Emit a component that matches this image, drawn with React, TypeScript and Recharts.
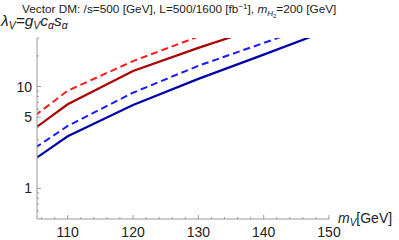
import React from 'react';
import { LineChart, Line, XAxis, YAxis, Customized } from 'recharts';

const masses = [105, 110, 120, 130, 140, 150];
const redDashed = [5.2, 9.1, 17.8, 31, 50, 75];
const darkRed = [3.9, 6.7, 14.2, 24.0, 39, 60];
const blueDashed = [2.5, 4.1, 8.7, 16.0, 26.8, 45];
const darkBlue = [1.95, 3.25, 6.6, 11.9, 20.6, 36];

const xTicks = [106, 108, 110, 112, 114, 116, 118, 120, 122, 124, 126, 128, 130, 132, 134, 136, 138, 140, 142, 144, 146, 148, 150];
const xMajor = [110, 120, 130, 140, 150];
const yTicks = [0.6, 0.7, 0.8, 0.9, 1, 2, 3, 4, 5, 6, 7, 8, 9, 10, 20, 30];
const yMajor = [1, 5, 10];

const data = masses.map((m, i) => ({
  m,
  rd: redDashed[i],
  dr: darkRed[i],
  bd: blueDashed[i],
  db: darkBlue[i],
}));

const FONT = '"Liberation Sans", Arial, sans-serif';

const XTick = (props: any) => {
  const { x, y, payload } = props;
  const major = xMajor.includes(payload.value);
  return (
    <g>
      <line x1={x} y1={y} x2={x} y2={y - (major ? 4 : 2)} stroke="#999" strokeWidth={1} />
      {major && (
        <text x={x} y={y + 17.5} textAnchor="middle" fontSize={14} fontFamily={FONT} fill="#222">
          {payload.value}
        </text>
      )}
    </g>
  );
};

const YTick = (props: any) => {
  const { x, y, payload } = props;
  const major = yMajor.includes(payload.value);
  return (
    <g>
      <line x1={x} y1={y} x2={x + (major ? 4 : 2)} y2={y} stroke="#999" strokeWidth={1} />
      {major && (
        <text x={x - 5} y={y + 5} textAnchor="end" fontSize={14} fontFamily={FONT} fill="#222">
          {payload.value}
        </text>
      )}
    </g>
  );
};

const Labels = () => (
  <g fontFamily={FONT} fill="#222">
    <text x={22} y={13} fontSize={11.8}>
      Vector DM: /s=500 [GeV], L=500/1600 [fb
      <tspan dy={-4} fontSize={8}>−1</tspan>
      <tspan dy={4}>], </tspan>
      <tspan fontStyle="italic">m</tspan>
      <tspan dy={3} fontSize={8} fontStyle="italic">H</tspan>
      <tspan dy={1.5} fontSize={6}>2</tspan>
      <tspan dy={-4.5}>=200 [GeV]</tspan>
    </text>
    <text x={1} y={26} fontSize={15.5} fontStyle="italic">
      λ<tspan dy={3} fontSize={10.5}>V</tspan>
      <tspan dy={-3}>=g</tspan>
      <tspan dy={3} fontSize={10.5}>V</tspan>
      <tspan dy={-3}>c</tspan>
      <tspan dy={3} fontSize={10.5}>α</tspan>
      <tspan dy={-3}>s</tspan>
      <tspan dy={3} fontSize={10.5}>α</tspan>
    </text>
    <text x={338} y={223} fontSize={14}>
      <tspan fontStyle="italic">m</tspan>
      <tspan dy={3} fontSize={10} fontStyle="italic">V</tspan>
      <tspan dy={-3}>[GeV]</tspan>
    </text>
  </g>
);

export default function App() {
  return (
    <div style={{ position: 'absolute', left: 0, top: 0, width: 399, height: 240, background: '#fff' }}>
      <LineChart width={399} height={240} data={data} margin={{ top: 38, right: 70, bottom: 0, left: 0 }}>
        <XAxis
          dataKey="m"
          type="number"
          domain={[105.3, 150]}
          allowDataOverflow
          ticks={xTicks}
          interval={0}
          tick={<XTick />}
          tickLine={false}
          tickSize={0}
          tickMargin={0}
          height={21}
          axisLine={{ stroke: '#999', strokeWidth: 1 }}
        />
        <YAxis
          type="number"
          scale="log"
          domain={[0.5, 30]}
          allowDataOverflow
          ticks={yTicks}
          interval={0}
          tick={<YTick />}
          tickLine={false}
          tickSize={0}
          tickMargin={0}
          width={37}
          axisLine={{ stroke: '#999', strokeWidth: 1 }}
        />
        <Line dataKey="rd" stroke="#ff1a1a" strokeWidth={2} strokeDasharray="7 4" dot={false} isAnimationActive={false} />
        <Line dataKey="dr" stroke="#aa0000" strokeWidth={2.2} dot={false} isAnimationActive={false} />
        <Line dataKey="bd" stroke="#1a1aff" strokeWidth={2} strokeDasharray="7 4" dot={false} isAnimationActive={false} />
        <Line dataKey="db" stroke="#0000aa" strokeWidth={2.2} dot={false} isAnimationActive={false} />
        <Customized component={<Labels />} />
      </LineChart>
    </div>
  );
}
